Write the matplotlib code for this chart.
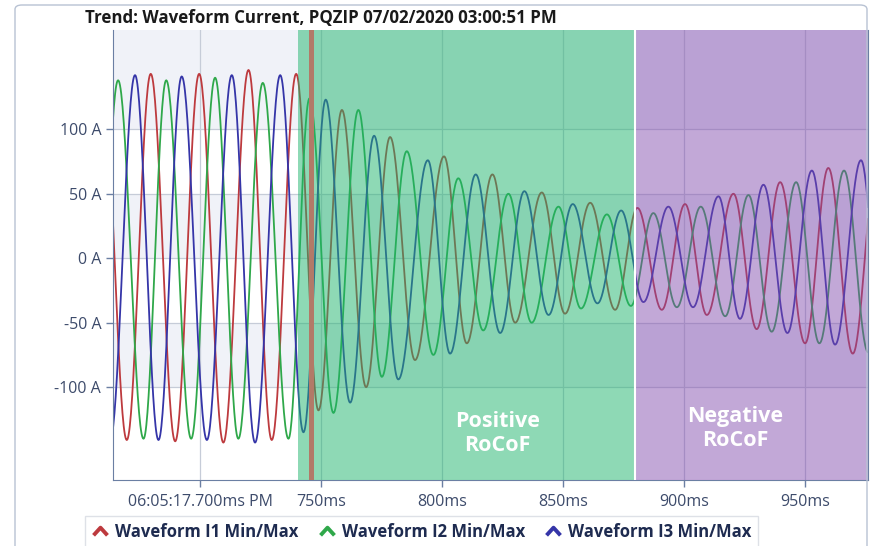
import numpy as np
import matplotlib
matplotlib.use('Agg')
import matplotlib.pyplot as plt
from matplotlib.lines import Line2D
from matplotlib.path import Path
from matplotlib.patches import FancyBboxPatch

plt.rcParams['font.family'] = ['Open Sans', 'DejaVu Sans']

# peaks / troughs: time in ms (after 06:05:17), current in A
i1_t = [659.5, 669.7, 679.6, 689.7, 699.6, 709.6, 720.0, 729.6, 739.7, 748.9, 758.6, 768.6, 778.5, 788.8,
        800.8, 810.2, 820.8, 830.2, 841.2, 850.8, 861.2, 871.5, 880.7, 890.8, 900.4, 909.4, 920.4, 930.0,
        939.7, 950.0, 959.6, 969.7, 979.8]
i1_v = [143, -141, 143, -142, 143, -143, 146, -141, 143, -118, 115, -100, 94, -79, 79, -66, 65, -50, 51,
        -43, 43, -40, 39, -40, 42, -44, 50, -55, 59, -66, 70, -74, 77]

i2_t = [656.2, 666.1, 676.6, 686.0, 696.3, 706.2, 715.8, 725.9, 736.5, 745.2, 755.1, 765.4, 775.1, 785.4,
        796.4, 806.7, 817.0, 827.4, 837.0, 848.1, 857.4, 868.1, 878.0, 887.3, 897.0, 906.9, 917.0, 926.6,
        936.2, 946.3, 955.9, 966.1, 976.1, 986.0]
i2_v = [-140, 138, -140, 138, -140, 140, -140, 136, -140, 124, -120, 115, -92, 83, -75, 62, -56, 50, -50,
        40, -39, 34, -37, 35, -38, 40, -45, 49, -57, 59, -66, 68, -73, 76]

i3_t = [662.8, 673.1, 682.8, 692.4, 702.8, 713.1, 722.7, 733.1, 742.7, 751.9, 762.0, 771.9, 781.9, 794.1,
        803.3, 813.9, 824.0, 834.0, 844.0, 854.0, 864.2, 874.0, 883.2, 893.5, 903.7, 914.2, 923.1, 932.8,
        942.7, 952.8, 962.4, 973.1, 982.2]
i3_v = [-141, 142, -141, 141, -141, 142, -143, 142, -135, 123, -112, 95, -94, 76, -74, 65, -58, 52, -44,
        42, -35, 37, -34, 40, -38, 48, -47, 57, -58, 68, -67, 76, -76]

series_names = ['Waveform I1 Min/Max', 'Waveform I2 Min/Max', 'Waveform I3 Min/Max']
series_colors = ['#bd3a3e', '#2fa84a', '#3535a8']

x_ticks = [700, 750, 800, 850, 900, 950]
x_labels = ['06:05:17.700ms PM', '750ms', '800ms', '850ms', '900ms', '950ms']
y_ticks = [-100, -50, 0, 50, 100]
y_labels = ['-100 A', '-50 A', '0 A', '50 A', '100 A']

rocof_pos = (740.5, 879.8)
rocof_neg = (879.8, 977)
marker_t = 745.9


# half-cosine between successive extrema
def wave(ts, vs, n=40):
    xs = []; ys = []
    for k in range(len(ts) - 1):
        f = np.linspace(0, 1, n, endpoint=False)
        xs.append(ts[k] + f * (ts[k + 1] - ts[k]))
        ys.append((vs[k] + vs[k + 1]) / 2 + (vs[k] - vs[k + 1]) / 2 * np.cos(np.pi * f))
    xs.append([ts[-1]]); ys.append([vs[-1]])
    return np.concatenate(xs), np.concatenate(ys)


fig = plt.figure(figsize=(8.73, 5.46), dpi=100)
ax = fig.add_axes([113 / 873, 1 - 480 / 546, (868 - 113) / 873, 450 / 546])
ax.set_xlim(664, 976)
ax.set_ylim(-172, 177)

# alternating bands
for lo, hi in [(100, 177), (0, 50), (-100, -50)]:
    ax.axhspan(lo, hi, color='#f0f2f8', zorder=0, lw=0)

for yt in y_ticks:
    ax.axhline(yt, color='#c6ccd8', lw=0.9, zorder=0.5)
for xt in x_ticks:
    ax.axvline(xt, color='#c6ccd8', lw=0.9, zorder=0.5)

for ts, vs, c in zip([i1_t, i2_t, i3_t], [i1_v, i2_v, i3_v], series_colors):
    x, y = wave(ts, vs)
    ax.plot(x, y, color=c, lw=1.3, zorder=2)

ax.axvspan(rocof_pos[0], rocof_pos[1], color='#1fb56d', alpha=0.5, lw=0, zorder=3)
ax.axvspan(rocof_neg[0], rocof_neg[1], color='#8149ad', alpha=0.48, lw=0, zorder=3)
ax.axvline(rocof_neg[0], color='white', lw=1.5, zorder=4)
ax.axvline(marker_t, color='#b27a68', lw=3.6, zorder=4)

ax.text(823, -136, 'Positive\nRoCoF', color='white', fontsize=15.5, fontweight='bold',
        ha='center', va='center', linespacing=1.15, zorder=5)
ax.text(921, -132, 'Negative\nRoCoF', color='white', fontsize=15.5, fontweight='bold',
        ha='center', va='center', linespacing=1.15, zorder=5)

ax.set_xticks(x_ticks)
ax.set_xticklabels(x_labels)
ax.set_yticks(y_ticks)
ax.set_yticklabels(y_labels)
ax.tick_params(axis='both', colors='#6b7fa3', labelcolor='#3d4b6b', labelsize=11.5, length=5, width=1)
ax.tick_params(axis='x', pad=5)
for s in ['left', 'bottom', 'right']:
    ax.spines[s].set_color('#6b7fa3')
ax.spines['right'].set_linewidth(0.8)
ax.spines['top'].set_visible(False)

fig.text(85 / 873, 1 - 18 / 546, 'Trend: Waveform Current, PQZIP 07/02/2020 03:00:51 PM',
         fontsize=12.2, fontweight='bold', color='#1a1a1a', ha='left', va='center')

frame = FancyBboxPatch((15 / 873, -0.05), 852 / 873, 1.05 - 5 / 546, boxstyle='round,pad=0,rounding_size=0.008',
                       transform=fig.transFigure, fill=False, ec='#b8c2d3', lw=1)
fig.patches.append(frame)

chev = Path([(-1, -0.55), (0, 0.55), (1, -0.55)], [Path.MOVETO, Path.LINETO, Path.LINETO])
handles = [Line2D([], [], ls='none', marker=chev, mfc='none', mec=c, mew=2.8, ms=10) for c in series_colors]
leg = fig.legend(handles, series_names, loc='lower left', bbox_to_anchor=(85 / 873, -0.003), ncol=3,
                 frameon=True, fancybox=False, edgecolor='#d6dae2', handlelength=1.0, handletextpad=0.4,
                 columnspacing=1.2, borderpad=0.4, borderaxespad=0, labelcolor='#1e2b50',
                 prop={'weight': 'bold', 'size': 12})
leg.get_frame().set_linewidth(1)

fig.savefig('out.png', dpi=100)
